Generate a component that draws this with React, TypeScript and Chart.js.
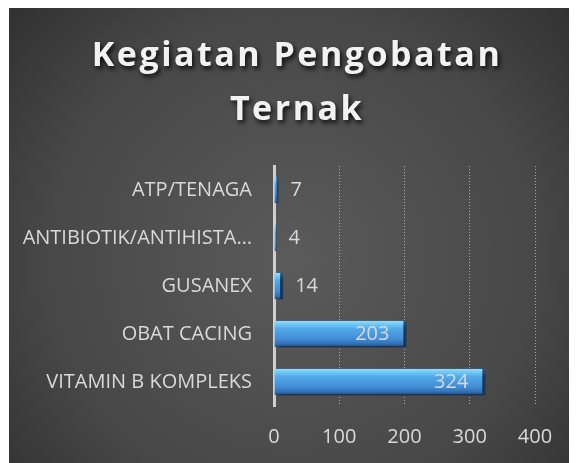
import React, { useEffect, useRef } from "react";
import { Chart, registerables } from "chart.js";
Chart.register(...registerables);

const categories = ["ATP/TENAGA", "ANTIBIOTIK/ANTIHISTA…", "GUSANEX", "OBAT CACING", "VITAMIN B KOMPLEKS"];
const values = [7, 4, 14, 203, 324];
const axisMin = 0;
const axisMax = 400;
const axisStep = 100;
const titleLines = ["Kegiatan Pengobatan", "Ternak"];

const FONT = "'Open Sans', sans-serif";
const LABEL_COLOR = "#d9d9d9";
const LABEL_SIZE = 20;

const bgPlugin = {
  id: "bgTitle",
  beforeDraw(chart: any) {
    const { ctx, width, height } = chart;
    ctx.save();
    const g = ctx.createRadialGradient(width * 0.5, height * 0.55, 10, width * 0.5, height * 0.55, width * 0.78);
    g.addColorStop(0, "#5a5a5a");
    g.addColorStop(0.55, "#474747");
    g.addColorStop(1, "#262626");
    ctx.fillStyle = g;
    ctx.fillRect(0, 0, width, height);

    ctx.fillStyle = "#f2f2f2";
    ctx.font = `bold 34px ${FONT}`;
    ctx.textAlign = "center";
    ctx.textBaseline = "alphabetic";
    try { (ctx as any).letterSpacing = "2.5px"; } catch (e) {}
    ctx.shadowColor = "rgba(0,0,0,0.85)";
    ctx.shadowBlur = 5;
    ctx.shadowOffsetX = 2;
    ctx.shadowOffsetY = 3;
    ctx.fillText(titleLines[0], width / 2 + 4, 59);
    ctx.fillText(titleLines[1], width / 2 + 4, 113);
    ctx.restore();
  },
  beforeDatasetsDraw(chart: any) {
    const { ctx } = chart;
    ctx.save();
    ctx.shadowColor = "rgba(0,0,0,0.55)";
    ctx.shadowBlur = 4;
    ctx.shadowOffsetX = 3;
    ctx.shadowOffsetY = 4;
  },
  afterDatasetsDraw(chart: any) {
    const { ctx } = chart;
    ctx.restore();
    const meta = chart.getDatasetMeta(0);
    ctx.save();
    ctx.font = `${LABEL_SIZE}px ${FONT}`;
    ctx.fillStyle = LABEL_COLOR;
    ctx.textBaseline = "middle";
    meta.data.forEach((el: any, i: number) => {
      const txt = String(values[i]);
      const w = ctx.measureText(txt).width;
      if (el.x - el.base > w + 40) {
        ctx.textAlign = "right";
        ctx.fillText(txt, el.x - 17, el.y);
      } else {
        ctx.textAlign = "left";
        ctx.fillText(txt, el.x + 12, el.y);
      }
    });
    ctx.restore();
  },
};

function barFill(context: any) {
  const chart = context.chart;
  const y = chart.scales?.y;
  if (!y || context.dataIndex === undefined) return "#4a90d9";
  const c = y.getPixelForValue(context.dataIndex);
  if (!isFinite(c)) return "#4a90d9";
  const half = 13;
  const g = chart.ctx.createLinearGradient(0, c - half, 0, c + half);
  g.addColorStop(0, "#8fdcff");
  g.addColorStop(0.12, "#72c9f8");
  g.addColorStop(0.3, "#52a8e8");
  g.addColorStop(0.7, "#428cd4");
  g.addColorStop(0.88, "#306fb4");
  g.addColorStop(1, "#1f4c80");
  return g;
}

export default function App() {
  const ref = useRef<HTMLCanvasElement>(null);
  useEffect(() => {
    if (!ref.current) return;
    const chart = new Chart(ref.current, {
      type: "bar",
      data: {
        labels: categories,
        datasets: [
          {
            data: values,
            backgroundColor: barFill,
            borderColor: "#24578f",
            borderWidth: { top: 0, right: 3, bottom: 1, left: 0 },
            borderSkipped: "start",
            categoryPercentage: 1,
            barPercentage: 0.55,
          },
        ],
      },
      options: {
        indexAxis: "y",
        responsive: false,
        animation: false,
        layout: { padding: { top: 159, left: 0, right: 42, bottom: 0 } },
        plugins: { legend: { display: false }, title: { display: false }, tooltip: { enabled: false } },
        scales: {
          x: {
            min: axisMin,
            max: axisMax,
            ticks: { stepSize: axisStep, color: LABEL_COLOR, font: { family: FONT, size: LABEL_SIZE }, padding: 19 },
            grid: {
              drawTicks: false,
              lineWidth: 1,
              color: (ctx: any) => (ctx.tick && ctx.tick.value === 0 ? "rgba(0,0,0,0)" : "rgba(200,200,200,0.75)"),
            },
            border: { display: false, dash: [1, 2] },
            afterFit: (s: any) => { s.height = 57; },
          },
          y: {
            ticks: { color: LABEL_COLOR, font: { family: FONT, size: LABEL_SIZE }, padding: 22 },
            grid: { display: false, drawTicks: false },
            border: { display: true, color: "#cfcfcf", width: 3, dash: [1, 1] },
            afterFit: (s: any) => { s.width = 265; },
          },
        },
      },
      plugins: [bgPlugin],
    });
    return () => chart.destroy();
  }, []);
  return (
    <div style={{ position: "relative", left: 1, top: -1, width: 568, height: 456 }}>
      <canvas ref={ref} width={568} height={456} style={{ display: "block" }} />
    </div>
  );
}
